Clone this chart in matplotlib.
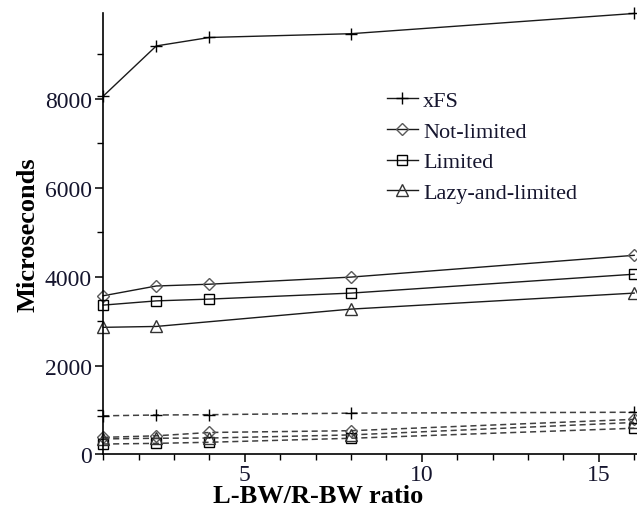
import matplotlib
matplotlib.use("Agg")
import matplotlib.pyplot as plt
from matplotlib.ticker import MultipleLocator

# L-BW/R-BW ratio
ratio = [1, 2.5, 4, 8, 16]
ratio_lazy = [1, 2.5, 8, 16]   # solid lazy curve has no point at 4

# solid lines
xfs = [8060, 9190, 9380, 9465, 9920]
not_limited = [3570, 3790, 3830, 3990, 4480]
limited = [3360, 3455, 3495, 3630, 4055]
lazy_limited = [2860, 2880, 3270, 3630]

# dashed lines
xfs_d = [870, 888, 895, 930, 950]
not_limited_d = [385, 420, 495, 535, 790]
limited_d = [235, 250, 275, 365, 590]
lazy_limited_d = [350, 365, 370, 440, 720]

labels = ["xFS", "Not-limited", "Limited", "Lazy-and-limited"]

plt.rcParams['font.family'] = ['Liberation Serif', 'DejaVu Serif']
txtcolor = "#15152e"

fig = plt.figure(figsize=(6.37, 5.10), dpi=100)
ax = fig.add_axes([0.162, 0.1069, 0.838, 0.8656])

styles = [("+", "black", 9, ratio, xfs, xfs_d),
          ("D", "0.35", 6.5, ratio, not_limited, not_limited_d),
          ("s", "black", 7.5, ratio, limited, limited_d),
          ("^", "0.2", 8, ratio_lazy, lazy_limited, lazy_limited_d)]

for (m, mc, ms, xs, solid, dashed), lab in zip(styles, labels):
    ax.plot(xs, solid, color="0.1", linewidth=1.0, marker=m, markersize=ms,
            markerfacecolor="none", markeredgecolor=mc, markeredgewidth=1.0,
            label=lab, clip_on=False)
    ax.plot(ratio, dashed, color="0.25", linewidth=1.1, linestyle=(0, (4, 2.5)),
            marker=m, markersize=ms, markerfacecolor="none", markeredgecolor=mc,
            markeredgewidth=1.0, clip_on=False)

ax.set_xlim(1, 16.08)
ax.set_ylim(0, 9930)
ax.set_xticks([5, 10, 15])
ax.xaxis.set_minor_locator(MultipleLocator(1))
ax.set_yticks([0, 2000, 4000, 6000, 8000])
ax.yaxis.set_minor_locator(MultipleLocator(1000))

ax.spines['top'].set_visible(False)
ax.spines['right'].set_visible(False)
ax.spines['left'].set_linewidth(1.2)
ax.spines['bottom'].set_linewidth(1.2)
ax.tick_params(axis="both", which="major", length=6, width=1.1, labelsize=17,
               labelcolor=txtcolor, pad=2)
ax.tick_params(axis="x", which="major", pad=0.5)
ax.tick_params(axis="both", which="minor", length=4, width=1.0)

# the original axis runs past the cropped right edge, so the label sits left of centre
ax.set_xlabel("L-BW/R-BW ratio", fontsize=19, fontweight="bold")
ax.xaxis.set_label_coords(0.402, -0.067)
ax.set_ylabel("Microseconds", fontsize=19, fontweight="bold", labelpad=4)

leg = ax.legend(loc="upper left", bbox_to_anchor=(0.51, 0.85), frameon=False,
                fontsize=16, handlelength=1.4, handletextpad=0.25,
                labelspacing=0.46, borderpad=0)
for t in leg.get_texts():
    t.set_color(txtcolor)

fig.savefig("out.png", dpi=100)
